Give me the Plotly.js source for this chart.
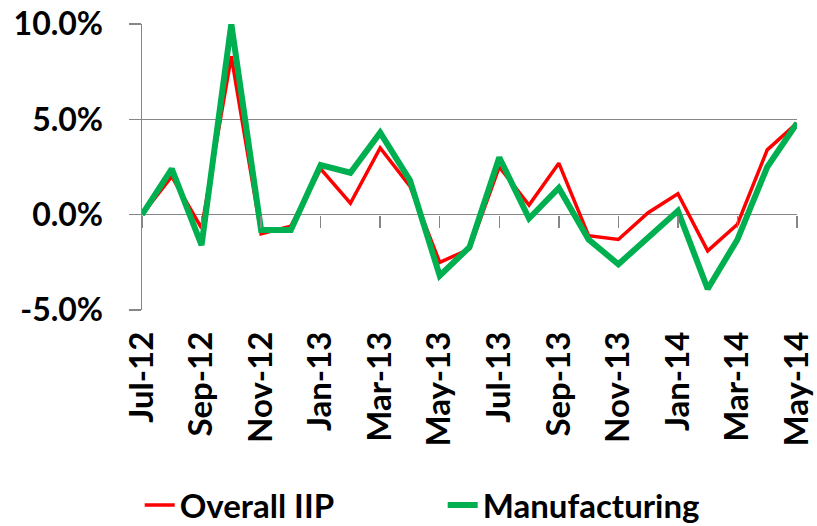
<!DOCTYPE html>
<html>
<head>
<meta charset="utf-8">
<script src="https://cdn.plot.ly/plotly-3.0.1.min.js"></script>
<style>html,body{margin:0;padding:0;background:#fff;}#chart{width:817px;height:526px;}</style>
</head>
<body>
<div id="chart"></div>
<script>
var months = ["Jul-12","Aug-12","Sep-12","Oct-12","Nov-12","Dec-12","Jan-13","Feb-13","Mar-13","Apr-13","May-13","Jun-13",
              "Jul-13","Aug-13","Sep-13","Oct-13","Nov-13","Dec-13","Jan-14","Feb-14","Mar-14","Apr-14","May-14"];
var overallIIP = [0.0, 2.0, -0.7, 8.3, -1.0, -0.6, 2.4, 0.6, 3.5, 1.5, -2.5, -1.8,
                  2.5, 0.5, 2.7, -1.1, -1.3, 0.1, 1.1, -1.9, -0.5, 3.4, 4.8];
var manufacturing = [0.0, 2.4, -1.6, 10.0, -0.8, -0.8, 2.6, 2.2, 4.3, 1.8, -3.2, -1.7,
                     3.0, -0.2, 1.4, -1.3, -2.6, -1.2, 0.2, -3.9, -1.3, 2.5, 4.8];
var tickLabels = ["Jul-12","Sep-12","Nov-12","Jan-13","Mar-13","May-13","Jul-13","Sep-13","Nov-13","Jan-14","Mar-14","May-14"];
var yTickVals = [-5, 0, 5, 10];
var yTickText = ["-5.0%", "0.0%", "5.0%", "10.0%"];
var tickIdx = tickLabels.map(function(t){ return months.indexOf(t); });

var grey = "#868686";
var fnt = {family: "Lato, 'DejaVu Sans', sans-serif", size: 33, color: "#000", weight: 700};
var yfnt = {family: "Lato, 'DejaVu Sans', sans-serif", size: 32, color: "#000", weight: 700};
var lfnt = {family: "Lato, 'DejaVu Sans', sans-serif", size: 33, color: "#000", weight: 700};

var traces = [
  {x: months, y: overallIIP, type: "scatter", mode: "lines", name: "Overall IIP",
   line: {color: "#FF0000", width: 3.5}, cliponaxis: false},
  {x: months, y: manufacturing, type: "scatter", mode: "lines", name: "Manufacturing",
   line: {color: "#00B050", width: 6}, cliponaxis: false},
  {x: [null], y: [null], xaxis: "x2", yaxis: "y", type: "scatter", mode: "lines",
   showlegend: false, hoverinfo: "skip"}
];

var layout = {
  width: 817, height: 526,
  margin: {l: 142, r: 20, t: 24, b: 216},
  paper_bgcolor: "#fff", plot_bgcolor: "#fff",
  font: fnt,
  showlegend: true,
  legend: {orientation: "h", xref: "container", yref: "container", x: 0.171, y: 1 - 505/526,
           xanchor: "left", yanchor: "middle", font: lfnt, entrywidth: 258, entrywidthmode: "pixels",
           bgcolor: "rgba(0,0,0,0)"},
  xaxis: {type: "category", range: [0, 22], tickvals: tickLabels, ticktext: tickLabels,
          tickangle: -90, ticks: "", showgrid: false, showline: false, zeroline: false,
          tickfont: fnt, ticklabelstandoff: 14},
  xaxis2: {overlaying: "x", anchor: "free", position: 1/3, type: "linear", range: [0, 22],
           tickvals: tickIdx, ticks: "outside", ticklen: 12, tickwidth: 1.5, tickcolor: grey,
           showticklabels: false, showgrid: false, showline: false, zeroline: false},
  yaxis: {range: [-5, 10], tickvals: yTickVals, ticktext: yTickText,
          ticks: "outside", ticklen: 12, tickwidth: 1.5, tickcolor: grey,
          showline: true, linecolor: grey, linewidth: 1.5,
          showgrid: true, gridcolor: grey, gridwidth: 1.5, zeroline: false,
          tickfont: yfnt, ticklabelstandoff: 19}
};

Plotly.newPlot("chart", traces, layout, {displayModeBar: false, staticPlot: true});
</script>
</body>
</html>
